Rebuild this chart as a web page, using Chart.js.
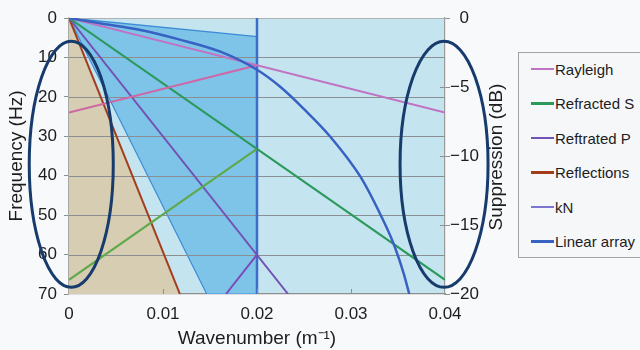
<!DOCTYPE html>
<html>
<head>
<meta charset="utf-8">
<script src="https://cdn.jsdelivr.net/npm/chart.js@4.4.1/dist/chart.umd.min.js"></script>
<style>
  body { margin: 0; width: 640px; height: 350px; overflow: hidden; position: relative; background: #f8f9fb; font-family: "Liberation Sans", Arial, sans-serif; }
  #chartCanvas { position: absolute; left: 0; top: 0; }
  #legend-container { position: absolute; left: 518px; top: 52px; width: 160px; height: 204px; border: 1px solid #a3a3a3; background: #f6f7f9; }
  #legend-container ul { list-style: none; margin: 0; padding: 0; }
  #legend-container li { position: absolute; left: 12px; height: 20px; display: flex; align-items: center; }
  #legend-container span { display: inline-block; width: 23px; }
  #legend-container p { margin: 0 0 0 1px; padding: 0; font-size: 15px; color: #1d1d1d; white-space: nowrap; }
</style>
</head>
<body>
<canvas id="chartCanvas" width="640" height="350"></canvas>
<div id="legend-container"></div>
<script>
// axes
const kTicks = [0, 0.01, 0.02, 0.03, 0.04];
const kTickLabels = ['0', '0.01', '0.02', '0.03', '0.04'];
const freqTicks = [0, 10, 20, 30, 40, 50, 60, 70];
const dbTicks = [0, -5, -10, -15, -20];
const dbTickLabels = ['\u00A0\u00A00', '\u22125', '\u221210', '\u221215', '\u221220'];

// dispersion lines, wavenumber (1/m) vs frequency (Hz)
const rayleighK = [0, 0.04];
const rayleighF = [0, 24];
const rayleighAliasK = [0, 0.02];
const rayleighAliasF = [24, 12];
const refrSK = [0, 0.04];
const refrSF = [0, 66.4];
const refrSAliasK = [0, 0.02];
const refrSAliasF = [66.4, 33.2];
const refrPK = [0, 0.0233];
const refrPF = [0, 70];
const refrPAliasK = [0.0167, 0.02];
const refrPAliasF = [70, 60];
const reflK = [0, 0.0118];
const reflF = [0, 70];
const kNK = [0.02, 0.02];
const kNF = [0, 70];

// pass band of the array
const passTopK = [0, 0.02];
const passTopF = [0, 4.7];
const passEdgeK = [0, 0.01465, 0.02];
const passEdgeF = [0, 70, 70];

// linear array response (dB, right axis)
const arrayK = [0, 0.0033, 0.0076, 0.0117, 0.0161, 0.0200, 0.0225, 0.0250, 0.0278, 0.0310, 0.0331, 0.0345, 0.0356, 0.0362];
const arrayDb = [0, -0.38, -0.87, -1.55, -2.44, -3.75, -5.0, -6.6, -8.6, -11.5, -14.2, -16.3, -18.5, -20];

// highlighted zones (centre and radii in axis units)
const ellipseK = [0.00024, 0.0399];
const ellipseF = [37.1, 37.1];
const ellipseRK = [0.00447, 0.00468];
const ellipseRF = [31.2, 31.2];

const legendNames = ['Rayleigh', 'Refracted S', 'Reftrated P', 'Reflections', 'kN', 'Linear array'];

const colors = {
  rayleigh: '#c072c3', rayleighAlias: '#cf66a6',
  refrS: '#2b995b', refrSAlias: '#5ea94a',
  refrP: '#7252b4', refrPAlias: '#7b4cb8',
  refl: '#a43c1e', kN: '#3d6dc9', kNLegend: '#7a76d2',
  array: '#3761c2', passFill: '#7dc4e8', passEdge: '#3d8bd6',
  tan: '#d6cdb2', plotBg: '#c4e5ef', ellipse: '#173b6d',
  grid: '#8b8f92', gridTop: '#aeb2b5', text: '#1d1d1d'
};
const fontFamily = "'Liberation Sans', Arial, sans-serif";

const pts = (xs, ys) => xs.map((x, i) => ({x: x, y: ys[i]}));

function linea(label, xs, ys, color, width, extra) {
  return Object.assign({
    label: label,
    data: pts(xs, ys),
    borderColor: color,
    borderWidth: width,
    fill: false,
    pointRadius: 0,
    order: 0
  }, extra || {});
}

const datasets = [
  linea('Linear array', arrayK, arrayDb, colors.array, 2.5, {yAxisID: 'y2', cubicInterpolationMode: 'monotone'}),
  linea('Rayleigh', rayleighK, rayleighF, colors.rayleigh, 2),
  linea('', rayleighAliasK, rayleighAliasF, colors.rayleighAlias, 2),
  linea('Refracted S', refrSK, refrSF, colors.refrS, 2),
  linea('', refrSAliasK, refrSAliasF, colors.refrSAlias, 2),
  linea('Reftrated P', refrPK, refrPF, colors.refrP, 2),
  linea('', refrPAliasK, refrPAliasF, colors.refrPAlias, 2),
  linea('Reflections', reflK, reflF, colors.refl, 2),
  linea('kN', kNK, kNF, colors.kN, 2.5),
  // pass band: top edge filled down to the left edge
  linea('', passTopK, passTopF, colors.passEdge, 1.3, {fill: '+1', backgroundColor: colors.passFill, order: 5}),
  linea('', passEdgeK, passEdgeF, colors.passEdge, 1.2, {order: 4}),
  // reflection zone
  linea('', reflK, reflF, 'rgba(0,0,0,0)', 0, {fill: {value: 70}, backgroundColor: colors.tan, order: 6})
];
const EDGE_INDEX = 10;

const legendStyle = {
  'Rayleigh': [colors.rayleigh, 2.5],
  'Refracted S': [colors.refrS, 2.5],
  'Reftrated P': [colors.refrP, 2.5],
  'Reflections': [colors.refl, 2.5],
  'kN': [colors.kNLegend, 1.5],
  'Linear array': [colors.array, 2.5]
};

// plot background, grid over the shaded zones, ellipses and right title
const plotDecor = {
  id: 'plotDecor',
  beforeDraw(chart) {
    const {ctx, chartArea: a} = chart;
    ctx.save();
    ctx.fillStyle = colors.plotBg;
    ctx.fillRect(a.left, a.top, a.right - a.left, a.bottom - a.top);
    ctx.restore();
  },
  afterDatasetDraw(chart, args) {
    if (args.index !== EDGE_INDEX) return;
    const {ctx, chartArea: a, scales} = chart;
    ctx.save();
    ctx.lineWidth = 1.2;
    freqTicks.forEach(f => {
      if (f === 70) return;
      const y = Math.round(scales.y.getPixelForValue(f)) + 0.5;
      ctx.strokeStyle = f === 0 ? colors.gridTop : colors.grid;
      ctx.beginPath();
      ctx.moveTo(a.left, y);
      ctx.lineTo(a.right, y);
      ctx.stroke();
    });
    ctx.restore();
  },
  afterDatasetsDraw(chart) {
    const {ctx, chartArea: a, scales} = chart;
    ctx.save();
    // small inward ticks
    ctx.strokeStyle = colors.grid;
    ctx.lineWidth = 1;
    kTicks.slice(1, -1).forEach(k => {
      const x = Math.round(scales.x.getPixelForValue(k)) + 0.5;
      ctx.beginPath();
      ctx.moveTo(x, a.bottom);
      ctx.lineTo(x, a.bottom - 5);
      ctx.stroke();
    });
    dbTicks.slice(1, -1).forEach(d => {
      const y = Math.round(scales.y2.getPixelForValue(d)) + 0.5;
      ctx.beginPath();
      ctx.moveTo(a.right - 5, y);
      ctx.lineTo(a.right, y);
      ctx.stroke();
    });
    // ellipses
    ctx.strokeStyle = colors.ellipse;
    ctx.lineWidth = 3;
    ellipseK.forEach((k, i) => {
      const cx = scales.x.getPixelForValue(k);
      const cy = scales.y.getPixelForValue(ellipseF[i]);
      const rx = Math.abs(scales.x.getPixelForValue(k + ellipseRK[i]) - cx);
      const ry = Math.abs(scales.y.getPixelForValue(ellipseF[i] + ellipseRF[i]) - cy);
      ctx.beginPath();
      ctx.ellipse(cx, cy, rx, ry, 0, 0, Math.PI * 2);
      ctx.stroke();
    });
    // right axis title, reading upwards
    ctx.translate(497, (a.top + a.bottom) / 2 + 1);
    ctx.rotate(-Math.PI / 2);
    ctx.fillStyle = colors.text;
    ctx.font = '19px ' + fontFamily;
    ctx.textAlign = 'center';
    ctx.textBaseline = 'middle';
    ctx.fillText('Suppression (dB)', 0, 0);
    ctx.restore();
  }
};

const tickFont = {family: fontFamily, size: 17};
const titleFont = {family: fontFamily, size: 19};

const ctx = document.getElementById('chartCanvas').getContext('2d');
const chart = new Chart(ctx, {
  type: 'line',
  data: {datasets: datasets},
  options: {
    responsive: false,
    animation: false,
    devicePixelRatio: 1,
    layout: {padding: {top: 18, right: 155, left: 0, bottom: 0}},
    plugins: {
      legend: {display: false},
      tooltip: {enabled: false}
    },
    scales: {
      x: {
        type: 'linear',
        min: 0,
        max: 0.04,
        afterBuildTicks: s => { s.ticks = kTicks.map(v => ({value: v})); },
        ticks: {
          callback: v => kTickLabels[kTicks.indexOf(v)],
          color: colors.text,
          font: tickFont,
          padding: 2,
          maxRotation: 0,
          autoSkip: false
        },
        grid: {display: false},
        border: {color: '#8d8d8d', width: 1.2},
        title: {display: true, text: 'Wavenumber (m\u207B\u00B9)', color: colors.text, font: titleFont, padding: {top: 0, bottom: 0}},
        afterFit: s => { s.height = 56; }
      },
      y: {
        type: 'linear',
        min: 0,
        max: 70,
        reverse: true,
        afterBuildTicks: s => { s.ticks = freqTicks.map(v => ({value: v})); },
        ticks: {color: colors.text, font: tickFont, padding: 7},
        grid: {drawOnChartArea: false, tickLength: 5, color: colors.grid},
        border: {color: '#a8a8a8', width: 1.2},
        title: {display: true, text: 'Frequency (Hz)', color: colors.text, font: titleFont, padding: {top: 5, bottom: 0}},
        afterFit: s => { s.width = 69; }
      },
      y2: {
        type: 'linear',
        position: 'right',
        min: -20,
        max: 0,
        afterBuildTicks: s => { s.ticks = dbTicks.map(v => ({value: v})); },
        ticks: {
          callback: v => dbTickLabels[dbTicks.indexOf(v)],
          color: colors.text,
          font: tickFont,
          padding: 0
        },
        grid: {drawOnChartArea: false, tickLength: 5, color: colors.grid},
        border: {color: '#9a9a9a', width: 1.2},
        afterFit: s => { s.width = 40; }
      }
    }
  },
  plugins: [plotDecor]
});

// legend
const legendBox = document.getElementById('legend-container');
const ul = document.createElement('ul');
legendNames.forEach((name, i) => {
  const li = document.createElement('li');
  li.style.top = (6 + i * 34.5) + 'px';
  const boxSpan = document.createElement('span');
  boxSpan.style.height = legendStyle[name][1] + 'px';
  boxSpan.style.background = legendStyle[name][0];
  const textContainer = document.createElement('p');
  textContainer.appendChild(document.createTextNode(name));
  li.appendChild(boxSpan);
  li.appendChild(textContainer);
  ul.appendChild(li);
});
legendBox.appendChild(ul);
</script>
</body>
</html>
